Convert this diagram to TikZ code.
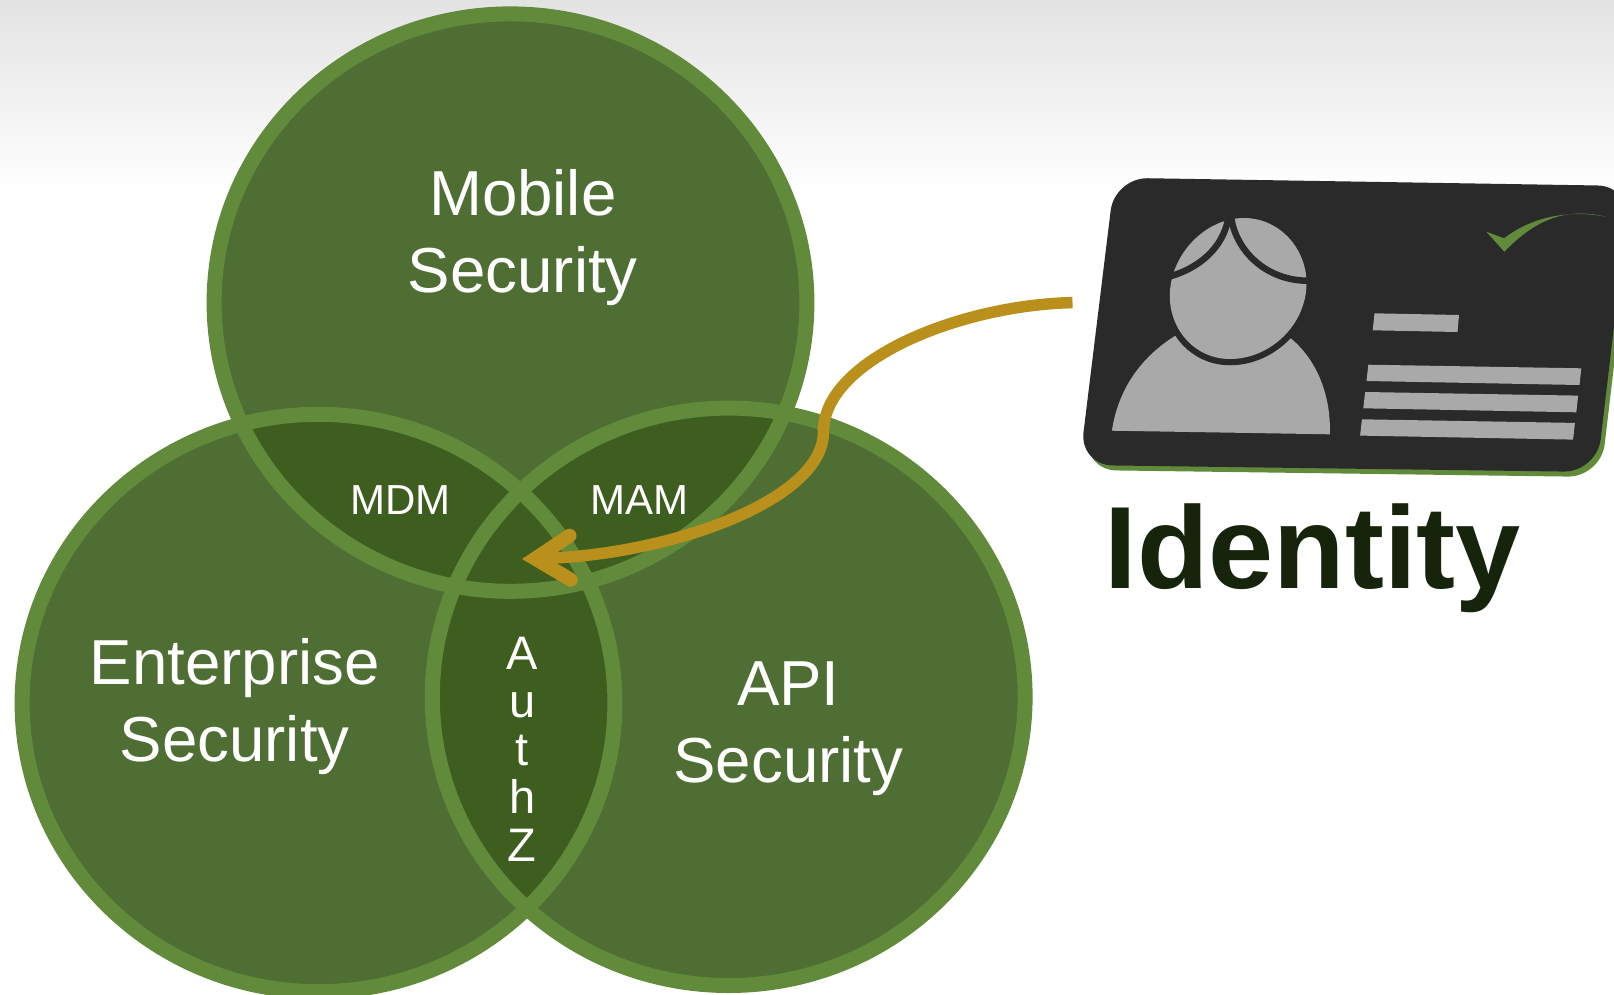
\documentclass[tikz,border=0pt]{standalone}
\usepackage{fontspec}
\setmainfont{Liberation Sans}
\usetikzlibrary{arrows.meta}
\definecolor{vennfill}{HTML}{4F6E34}
\definecolor{venndark}{HTML}{3D5E1F}
\definecolor{vennline}{HTML}{618A3A}
\definecolor{goldline}{HTML}{BA901C}
\definecolor{carddark}{HTML}{2A2A2A}
\definecolor{cardgray}{HTML}{A9A9A9}
\definecolor{identitytext}{HTML}{16240C}
\def\topvenn{(510.5,302.6) ellipse [x radius=296.4,y radius=288.7]}
\def\leftvenn{(318.5,703) ellipse [x radius=296.4,y radius=288.7]}
\def\rightvenn{(728.7,696.8) ellipse [x radius=296.4,y radius=288.7]}
\def\cardshape{(1114.7,177.7) -- (1630.6,186) -- (1596.8,472) -- (1079.5,465) -- cycle}
\tikzset{
  vennlabel/.style={text=white,align=center,font=\fontsize{63.6}{77}\selectfont},
  smalllabel/.style={text=white,font=\fontsize{42}{48}\selectfont,anchor=base},
  authzlabel/.style={text=white,font=\fontsize{47}{48}\selectfont,anchor=base},
  cardbar/.style={fill=cardgray},
}
\begin{document}
\begin{tikzpicture}[x=1pt,y=-1pt]
  \useasboundingbox (0,0) rectangle (1614,994);
  \clip (0,0) rectangle (1614,994);
  \fill[white] (0,0) rectangle (1614,994);
  \shade[top color=black!11,bottom color=white] (0,0) rectangle (1614,192);

  \fill[vennfill] \topvenn;
  \fill[vennfill] \leftvenn;
  \fill[vennfill] \rightvenn;
  \foreach \first/\second in {\topvenn/\leftvenn,\topvenn/\rightvenn,\leftvenn/\rightvenn} {
    \begin{scope}
      \clip \first;
      \fill[venndark] \second;
    \end{scope}
  }
  \draw[vennline,line width=15pt] \topvenn;
  \draw[vennline,line width=15pt] \leftvenn;
  \draw[vennline,line width=15pt] \rightvenn;

  \node[vennlabel] (mobile) at (522.8,238) {Mobile\\Security};
  \node[vennlabel] (enterprise) at (234.7,707) {Enterprise\\Security};
  \node[vennlabel] (api) at (788.4,728.5) {API\\Security};
  \node[smalllabel] (mdm) at (400.4,514.6) {MDM};
  \node[smalllabel] (mam) at (639.2,514.6) {MAM};
  \foreach \letter/\i in {A/0,u/1,t/2,h/3,Z/4} {
    \node[authzlabel] (authz\i) at (522.2,669.5+47.9*\i) {\letter};
  }

  \fill[vennline,rounded corners=33pt,shift={(4,5)}] \cardshape;
  \fill[carddark,rounded corners=33pt] \cardshape;
  \fill[cardgray] (1111.9,430.7) .. controls (1118,390) and (1140,358) .. (1174.8,336)
    -- (1290,337.7) .. controls (1315,358) and (1331,392) .. (1329.9,434.3) -- cycle;
  \fill[cardgray,preaction={draw=carddark,line width=12.5pt}] (1244,218)
    .. controls (1279,218) and (1306.5,248) .. (1306.5,283)
    .. controls (1306.5,325) and (1270,359) .. (1230,359)
    .. controls (1195,359) and (1169.8,330) .. (1169.8,296)
    .. controls (1169.8,255) and (1205,218) .. (1244,218) -- cycle;
  \draw[carddark,line width=6.5pt] (1231,216) .. controls (1235,250) and (1266,281.7) .. (1310,280.7);
  \draw[carddark,line width=6.5pt] (1228,220) .. controls (1222,248) and (1200,268) .. (1168,277);
  \fill[vennline] (1486.3,231.7) -- (1504,238.3) .. controls (1525,222) and (1560,208) .. (1605.8,216.7)
    .. controls (1565,207) and (1535,220) .. (1504.3,251.7) -- cycle;
  \fill[cardbar] (1374.5,313.3) -- (1459,315) -- (1457.5,332) -- (1372.7,330.3) -- cycle;
  \foreach \i in {0,1,2} {
    \fill[cardbar,shift={(-3.2*\i,27.3*\i)}] (1368.3,364.7) -- (1581.3,368.3) -- (1579.5,385) -- (1366.5,381) -- cycle;
  }

  \node[text=identitytext,font=\fontsize{117}{120}\selectfont\bfseries,anchor=base] (identity) at (1312.8,588.5) {Identity};

  \coordinate (cardside) at (1072.5,302.6);
  \coordinate (bend) at (823.4,432.3);
  \coordinate (overlap) at (522,559);
  \draw[goldline,line width=11.5pt,-{Straight Barb[length=35pt,width=44pt,line width=14pt,line cap=round,line join=miter]}]
    (cardside) .. controls (960,305) and (823,360) .. (bend)
    .. controls (823.4,500) and (670,555) .. (overlap);
\end{tikzpicture}
\end{document}
